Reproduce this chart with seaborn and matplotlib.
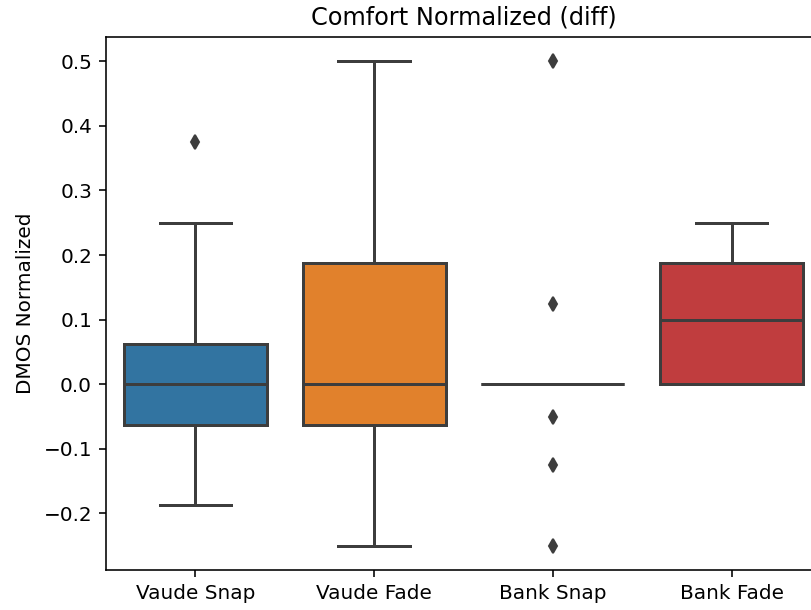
import matplotlib
matplotlib.use("Agg")
import matplotlib.pyplot as plt
import seaborn as sns
import pandas as pd

# Per-condition comfort difference scores (normalized DMOS)
categories = ["Vaude Snap", "Vaude Fade", "Bank Snap", "Bank Fade"]
vaude_snap = [-0.1875, -0.0625, -0.0625, 0.0, 0.0, 0.0, 0.0625, 0.25, 0.375]
vaude_fade = [-0.25, -0.125, -0.0625, 0.0, 0.0, 0.0625, 0.1875, 0.375, 0.5]
bank_snap = [-0.25, -0.125, -0.05, 0.0, 0.0, 0.0, 0.0, 0.0, 0.0, 0.0, 0.0, 0.125, 0.5]
bank_fade = [0.0, 0.0, 0.0, 0.0625, 0.1, 0.125, 0.1875, 0.25, 0.25]

groups = [vaude_snap, vaude_fade, bank_snap, bank_fade]
df = pd.DataFrame({
    "condition": [c for c, g in zip(categories, groups) for _ in g],
    "value": [v for g in groups for v in g],
})

dpi = 144
fig = plt.figure(figsize=(811 / dpi, 610 / dpi), dpi=dpi)
ax = fig.add_axes([106 / 811, 40 / 610, (821 - 106) / 811, (570 - 37) / 610])

gray = "#3d3d3d"
sns.boxplot(
    data=df, x="condition", y="value", hue="condition", order=categories,
    hue_order=categories, palette="tab10", saturation=0.75, legend=False,
    linecolor=gray, linewidth=1.5, width=0.8, ax=ax,
    flierprops=dict(marker="d", markerfacecolor=gray, markeredgecolor=gray,
                    markersize=5),
)

ax.set_title("Comfort Normalized (diff)")
ax.set_xlabel("")
ax.set_ylabel("DMOS Normalized")

fig.savefig("out.png", dpi=dpi)
